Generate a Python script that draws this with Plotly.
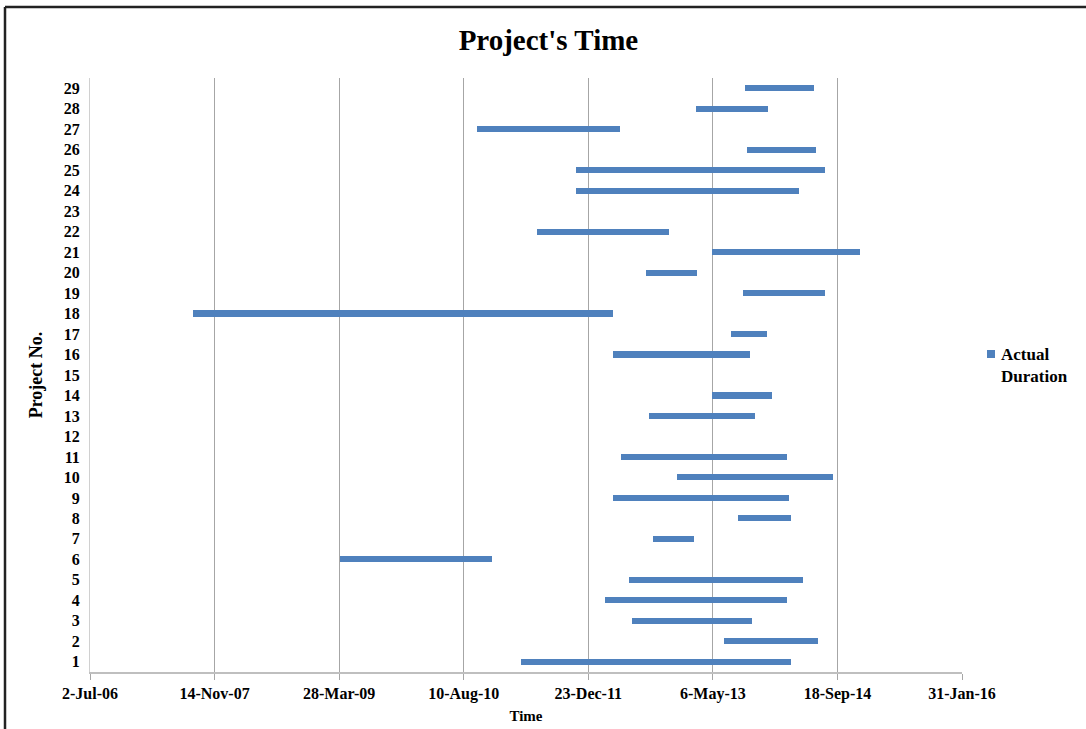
import pandas as pd
import plotly.graph_objects as go

projects = list(range(1, 30))
start_dates = [
    "2011-03-26", "2013-06-20", "2012-06-14", "2012-02-28", "2012-06-04",
    "2009-04-02", "2012-09-09", "2013-08-13", "2012-03-31", "2012-12-14",
    "2012-05-01", None, "2012-08-21", "2013-05-02", None,
    "2012-03-31", "2013-07-16", "2007-08-19", "2013-09-03", "2012-08-12",
    "2013-05-02", "2011-05-30", None, "2011-11-03", "2011-11-03",
    "2013-09-19", "2010-10-02", "2013-02-26", "2013-09-14",
]
end_dates = [
    "2014-03-15", "2014-06-30", "2013-10-11", "2014-02-28", "2014-05-01",
    "2010-12-01", "2013-02-18", "2014-03-15", "2014-03-06", "2014-09-01",
    "2014-02-28", None, "2013-10-24", "2013-12-31", None,
    "2013-10-01", "2013-12-11", "2012-03-31", "2014-07-31", "2013-03-04",
    "2014-12-18", "2012-11-12", None, "2014-04-16", "2014-07-31",
    "2014-06-22", "2012-04-29", "2013-12-15", "2014-06-14",
]
x_range = ["2006-07-02", "2016-01-31"]
tick_step_days = 500
series_name = "Actual Duration"

starts = pd.to_datetime(pd.Series(start_dates))
ends = pd.to_datetime(pd.Series(end_dates))
dur_ms = [(e - s).total_seconds() * 1000 if pd.notna(s) else None for s, e in zip(starts, ends)]

FONT = "Liberation Serif, Times New Roman, serif"
BLUE = "#4F81BD"
GRID = "#A6A6A6"

# plot area in pixels
L, R, T, B = 90, 962, 78, 672
W, H = R - L, B - T

def px_x(x):
    return (x - L) / W

def px_y(y):
    return (B - y) / H

fig = go.Figure()
fig.add_trace(go.Bar(
    y=projects, x=dur_ms, base=start_dates, orientation="h",
    width=0.3, marker=dict(color=BLUE, line=dict(width=0)),
    name=series_name, showlegend=False,
))

fig.update_layout(
    width=1086, height=729,
    paper_bgcolor="white", plot_bgcolor="white",
    margin=dict(l=L, r=1086 - R, t=T, b=729 - B, autoexpand=False),
    font=dict(family=FONT, color="black"),
    title=dict(text="<b>Project's Time</b>", x=0.505, xanchor="center",
               y=0.945, yanchor="middle", font=dict(size=29, family=FONT)),
    showlegend=False,
    bargap=0,
)
fig.update_xaxes(
    type="date", range=x_range,
    tick0=x_range[0], dtick=tick_step_days * 86400000,
    tickformat="%-d-%b-%y",
    showgrid=True, gridcolor=GRID, gridwidth=1,
    showline=True, linecolor="#BFBFBF", linewidth=2,
    ticks="outside", ticklen=6, tickcolor=GRID,
    tickfont=dict(size=16, family=FONT),
    tickprefix="<b>", ticksuffix="</b>",
    title=dict(text="<b>Time</b>", font=dict(size=15, family=FONT), standoff=8),
    zeroline=False,
)
fig.update_yaxes(
    range=[0.5, 29.5], tickmode="linear", tick0=1, dtick=1,
    showgrid=False, showline=True, linecolor="#D0D0D0", linewidth=1,
    ticks="", tickfont=dict(size=16, family=FONT),
    tickprefix="<b>", ticksuffix="</b>",
    ticklabelstandoff=6,
    title=dict(text="<b>Project No.</b>", font=dict(size=18, family=FONT), standoff=16),
    zeroline=False,
)

# legend (drawn manually to match the reference placement)
fig.add_shape(type="rect", xref="paper", yref="paper",
              x0=px_x(987), x1=px_x(995), y0=px_y(358), y1=px_y(350),
              fillcolor=BLUE, line=dict(width=0))
fig.add_annotation(xref="paper", yref="paper", x=px_x(999), y=px_y(343),
                   xanchor="left", yanchor="top", align="left", showarrow=False,
                   text="<b>Actual<br>Duration</b>",
                   font=dict(size=17, family=FONT, color="black"))

# outer frame (top and left edges visible in the reference)
fig.add_shape(type="line", xref="paper", yref="paper",
              x0=px_x(5), x1=px_x(1090), y0=px_y(7), y1=px_y(7),
              line=dict(color="#222222", width=2.5))
fig.add_shape(type="line", xref="paper", yref="paper",
              x0=px_x(5), x1=px_x(5), y0=px_y(7), y1=px_y(740),
              line=dict(color="#222222", width=2.5))

fig.write_html("out.html", config={"displayModeBar": False},
               post_script="document.body.style.margin='0';document.body.style.overflow='hidden';")
